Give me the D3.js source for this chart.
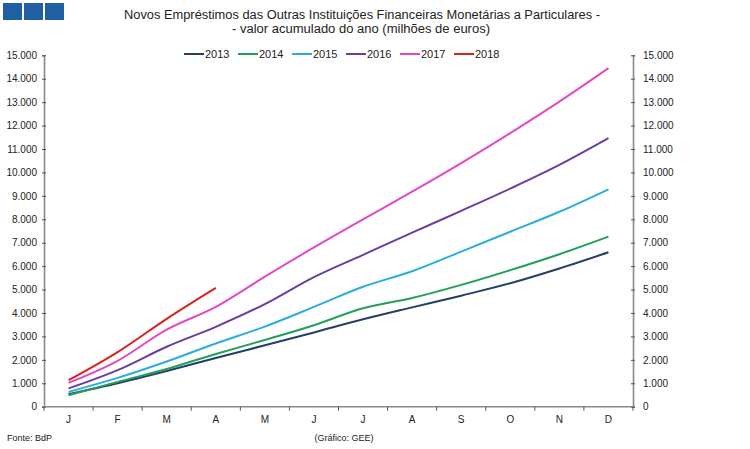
<!DOCTYPE html>
<html lang="pt">
<head>
<meta charset="UTF-8" />
<title>Novos Empréstimos a Particulares</title>
<script src="https://d3js.org/d3.v7.min.js"></script>
<style>
  body { margin: 0; background: #fff; }
  svg text { font-family: "Liberation Sans", Arial, sans-serif; fill: #222; }
</style>
</head>
<body>
<div id="chart"></div>
<script>
// months (x categories)
const months = ["J","F","M","A","M","J","J","A","S","O","N","D"];
const years = ["2013","2014","2015","2016","2017","2018"];
const colors = ["#243f66","#22a05a","#2aaee0","#6b3e9c","#e04ac4","#d9221f"];

// accumulated values, millions of euros
const v2013 = [530, 1000, 1520, 2080, 2620, 3170, 3730, 4240, 4740, 5270, 5900, 6590];
const v2014 = [490, 1060, 1610, 2250, 2850, 3480, 4200, 4640, 5200, 5830, 6510, 7260];
const v2015 = [630, 1230, 1930, 2700, 3420, 4260, 5120, 5780, 6620, 7470, 8320, 9280];
const v2016 = [780, 1560, 2560, 3410, 4380, 5530, 6480, 7430, 8360, 9310, 10320, 11460];
const v2017 = [1020, 1960, 3290, 4260, 5550, 6800, 8000, 9180, 10400, 11680, 13020, 14450];
const v2018 = [1130, 2330, 3750, 5070];
const series = [v2013, v2014, v2015, v2016, v2017, v2018];

const yTicks = d3.range(0, 15001, 1000);

const W = 750, H = 449;
const margin = {left: 44, right: 117, top: 55.3, bottom: 42.3};

const svg = d3.select("#chart").append("svg")
  .attr("width", W).attr("height", H);

// little blue squares at top left
svg.selectAll("rect.logo").data([0,1,2]).enter().append("rect")
  .attr("class", "logo")
  .attr("x", d => 3 + d * 21)
  .attr("y", 3)
  .attr("width", 19)
  .attr("height", 17)
  .attr("fill", "#2060a2");

// title
svg.append("text")
  .attr("x", 362).attr("y", 19)
  .attr("text-anchor", "middle")
  .style("font-size", "12.5px")
  .attr("textLength", 476)
  .attr("lengthAdjust", "spacingAndGlyphs")
  .text("Novos Empréstimos das Outras Instituições Financeiras Monetárias a Particulares -");
svg.append("text")
  .attr("x", 361).attr("y", 33)
  .attr("text-anchor", "middle")
  .style("font-size", "12.5px")
  .attr("textLength", 258)
  .attr("lengthAdjust", "spacingAndGlyphs")
  .text("- valor acumulado do ano (milhões de euros)");

const x = d3.scaleBand()
  .domain(d3.range(12))
  .range([margin.left, W - margin.right]);

const y = d3.scaleLinear()
  .domain([0, 15000])
  .range([H - margin.bottom, margin.top]);

const fmt = d => d3.format(",")(d).replace(/,/g, ".");

// left axis
const yLeft = svg.append("g")
  .attr("transform", `translate(${margin.left},0)`)
  .call(d3.axisLeft(y).tickValues(yTicks).tickFormat(fmt).tickSize(2).tickPadding(5));
// right axis
const yRight = svg.append("g")
  .attr("transform", `translate(${W - margin.right},0)`)
  .call(d3.axisRight(y).tickValues(yTicks).tickFormat(fmt).tickSize(2).tickPadding(8));

[yLeft, yRight].forEach(g => {
  g.select(".domain").attr("stroke", "#8a8a8a").attr("stroke-width", 1.6);
  g.selectAll(".tick line").attr("stroke", "#555")
    .attr("x1", -2).attr("x2", 2);
  g.selectAll(".tick text").style("font-size", "10px").attr("fill", "#222");
});

// x axis
const xAxis = svg.append("g")
  .attr("transform", `translate(0,${H - margin.bottom})`);
xAxis.append("line")
  .attr("x1", margin.left).attr("x2", W - margin.right)
  .attr("stroke", "#8a8a8a").attr("stroke-width", 1.6);
xAxis.selectAll("line.tk").data(d3.range(13)).enter().append("line")
  .attr("class", "tk")
  .attr("x1", d => margin.left + d * x.step())
  .attr("x2", d => margin.left + d * x.step())
  .attr("y1", 0).attr("y2", 4)
  .attr("stroke", "#555");
xAxis.selectAll("text").data(months).enter().append("text")
  .attr("x", (d, i) => x(i) + x.bandwidth() / 2)
  .attr("y", 16)
  .attr("text-anchor", "middle")
  .style("font-size", "10px")
  .text(d => d);

// lines
const line = d3.line()
  .x((d, i) => x(i) + x.bandwidth() / 2)
  .y(d => y(d))
  .curve(d3.curveMonotoneX);

svg.selectAll("path.serie").data(series).enter().append("path")
  .attr("class", "serie")
  .attr("d", d => line(d))
  .attr("fill", "none")
  .attr("stroke", (d, i) => colors[i])
  .attr("stroke-width", 2);

// legend
const leg = svg.selectAll("g.leg").data(years).enter().append("g")
  .attr("class", "leg")
  .attr("transform", (d, i) => `translate(${184 + i * 54},54)`);
leg.append("line")
  .attr("x1", 0).attr("x2", 20)
  .attr("stroke", (d, i) => colors[i])
  .attr("stroke-width", 2);
leg.append("text")
  .attr("x", 21).attr("y", 4)
  .style("font-size", "11px")
  .text(d => d);

// footer
svg.append("text")
  .attr("x", 7).attr("y", 441)
  .style("font-size", "9px")
  .text("Fonte: BdP");
svg.append("text")
  .attr("x", 344).attr("y", 441)
  .attr("text-anchor", "middle")
  .style("font-size", "9px")
  .text("(Gráfico: GEE)");
</script>
</body>
</html>
